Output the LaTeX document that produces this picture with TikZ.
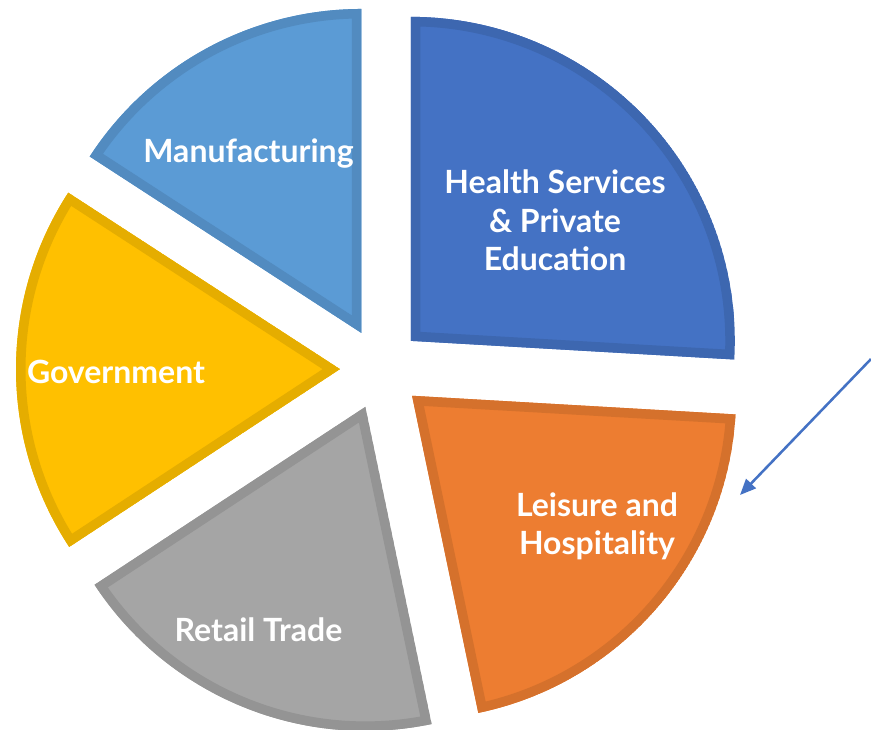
\documentclass[tikz,border=0pt]{standalone}
\usepackage{fontspec}
\setmainfont{Lato}
\usepackage{tikz}
\usetikzlibrary{arrows.meta}
\definecolor{hblue}{HTML}{4472C4}
\definecolor{mblue}{HTML}{5B9BD5}
\definecolor{gyellow}{HTML}{FFC000}
\definecolor{rgrey}{HTML}{A5A5A5}
\definecolor{lorange}{HTML}{ED7D31}
\tikzset{>={Triangle[length=12pt, width=10pt]}}
\tikzset{lbl/.style={text=white, font=\bfseries\fontsize{24}{28.7}\selectfont, inner sep=0pt, align=center}}
\def\slicerad{324}
\def\sliceoff{41}
\newcommand\pieslice{}
\def\pieslice[#1](#2:#3)% [colour] (start angle:end angle)
  {\begin{scope}
     \coordinate (apex) at ({\sliceoff*cos((#2+#3)/2)}, {\sliceoff*sin((#2+#3)/2)});
     \clip (apex) -- ++(#2:\slicerad) arc (#2:#3:\slicerad) -- cycle;
     \filldraw [fill=#1, draw=#1!90!black, line width=14.25pt] (apex) -- ++(#2:\slicerad) arc (#2:#3:\slicerad) -- cycle;
   \end{scope}}

\begin{document}
\begin{tikzpicture}[x=0.75pt, y=0.75pt]
                \useasboundingbox (-381, -360) rectangle (490, 369);
                % slices
                \pieslice[hblue](-3.3:90)
                \pieslice[mblue](90:147)
                \pieslice[gyellow](147:213.3)
                \pieslice[rgrey](213.3:281.8)
                \pieslice[lorange](281.8:356.7)
                % labels
                \node [lbl, anchor=base] (manuf) at (-132.5, 206.7) {Manufacturing};
                \node [lbl] (health) at (174, 148.5) {Health Services\\ \& Private\\ Education};
                \node [lbl, anchor=base] (govt) at (-265, -14.3) {Government};
                \node [lbl, anchor=base] (retail) at (-122.5, -272.7) {Retail Trade};
                \node [lbl] (leisure) at (216, -157.5) {Leisure and\\ Hospitality};
                % arrow
                \coordinate (arrowstart) at (490, 10);
                \coordinate (arrowtip) at (359, -126);
                \draw [->, hblue, line width=1.9pt] (arrowstart) -- (arrowtip);
            \end{tikzpicture}
\end{document}
